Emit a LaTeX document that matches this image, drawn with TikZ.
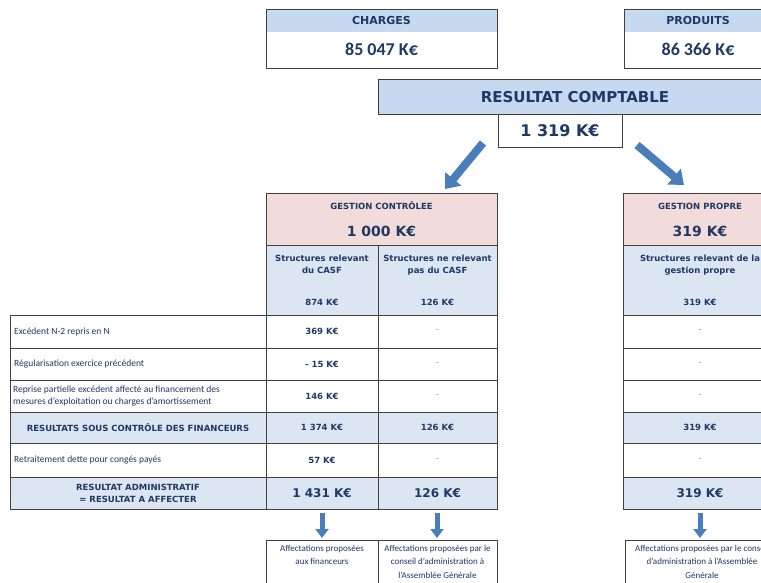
\documentclass[tikz,border=0pt]{standalone}
\usepackage{fontspec}
\setmainfont{Carlito}
\newfontfamily\hdfont{DejaVu Sans}
\usetikzlibrary{arrows.meta}
\definecolor{hdblue}{HTML}{C6D9F1}
\definecolor{rowblue}{HTML}{DCE6F2}
\definecolor{pinkc}{HTML}{F2DCDB}
\definecolor{navy}{HTML}{1F3864}
\definecolor{bordc}{HTML}{404040}
\definecolor{arrowc}{HTML}{4A7EBB}
\definecolor{dashc}{HTML}{8C8C8C}
\begin{document}
\begin{tikzpicture}[x=1pt,y=-1pt,
 cell/.style={draw=bordc,line width=1pt,inner sep=0pt,outer sep=0pt,anchor=north west},
 fillonly/.style={draw=none,inner sep=0pt,outer sep=0pt,anchor=north west},
 hd/.style={font=\hdfont\bfseries\fontsize{8.5}{12}\selectfont,text=navy,inner sep=0pt},
 hdbig/.style={font=\hdfont\bfseries\fontsize{12}{14}\selectfont,text=navy,inner sep=0pt},
 lab/.style={font=\fontsize{9.5}{12}\selectfont,text=navy,inner sep=0pt,anchor=west,align=left},
 nul/.style={font=\fontsize{9}{11}\selectfont,text=dashc,inner sep=0pt},
 bot/.style={font=\fontsize{9}{13.5}\selectfont,text=navy,inner sep=0pt,align=center},
 bigarrow/.style={draw=arrowc,line width=8pt,-{Triangle[length=13pt,width=20pt]}},
 downarrow/.style={draw=arrowc,line width=5pt,-{Triangle[length=9pt,width=13pt]}}
]
\useasboundingbox (0,0) rectangle (761,582);
\begin{scope}
\clip (0,0) rectangle (761,582);
% CHARGES
\node[fillonly,fill=hdblue,minimum width=231pt,minimum height=23pt] (chgh) at (266,9) {};
\node[cell,minimum width=231pt,minimum height=59pt] (chg) at (266,9) {};
\node[hd,font=\hdfont\bfseries\fontsize{11}{13}\selectfont] (chgt) at (381.5,20.5) {CHARGES};
\node[font=\bfseries\fontsize{18}{20}\selectfont,text=navy,inner sep=0pt] (chgv) at (381.5,49) {85 047 K€};
% PRODUITS
\node[fillonly,fill=hdblue,minimum width=148pt,minimum height=23pt] (prdh) at (624,9) {};
\node[cell,minimum width=148pt,minimum height=59pt] (prd) at (624,9) {};
\node[hd,font=\hdfont\bfseries\fontsize{11}{13}\selectfont] (prdt) at (698,20.5) {PRODUITS};
\node[font=\bfseries\fontsize{18}{20}\selectfont,text=navy,inner sep=0pt] (prdv) at (698,49) {86 366 K€};
% RESULTAT COMPTABLE
\node[cell,fill=hdblue,minimum width=394pt,minimum height=35pt] (rch) at (378,79) {};
\node[cell,fill=white,minimum width=124pt,minimum height=33pt] (rcv) at (498,114) {};
\node[hd,font=\hdfont\bfseries\fontsize{15}{17}\selectfont] (rcht) at (575,97) {RESULTAT COMPTABLE};
\node[hd,font=\hdfont\bfseries\fontsize{16}{18}\selectfont] (rcvt) at (560,131) {1 319 K€};
% big arrows
\coordinate (la0) at (483,143);
\coordinate (la1) at (445,189);
\coordinate (ra0) at (637,145);
\coordinate (ra1) at (684,185);
\draw[bigarrow] (la0) -- (la1);
\draw[bigarrow] (ra0) -- (ra1);
% headers
\node[cell,fill=pinkc,minimum width=231pt,minimum height=52pt] (gc) at (266,193) {};
\node[hd] (gct) at (381.5,206) {GESTION CONTRÔLEE};
\node[hd,font=\hdfont\bfseries\fontsize{14}{16}\selectfont] (gcv) at (381.5,231) {1 000 K€};
\node[cell,fill=pinkc,minimum width=154pt,minimum height=52pt] (gp) at (623,193) {};
\node[hd] (gpt) at (700,206) {GESTION PROPRE};
\node[hd,font=\hdfont\bfseries\fontsize{14}{16}\selectfont] (gpv) at (700,231) {319 K€};
% structures row
\node[cell,fill=rowblue,minimum width=112pt,minimum height=70pt,hd,align=center] (sa) at (266,245) {Structures relevant\\du CASF\\[20pt]874 K€};
\node[cell,fill=rowblue,minimum width=119pt,minimum height=70pt,hd,align=center] (sb) at (378,245) {Structures ne relevant\\pas du CASF\\[20pt]126 K€};
\node[cell,fill=rowblue,minimum width=154pt,minimum height=70pt,hd,align=center] (sc) at (623,245) {Structures relevant de la\\gestion propre\\[20pt]319 K€};
% row 1
\node[cell,fill=white,minimum width=256pt,minimum height=33pt] (l1) at (10,315) {};
\node[lab] (l1t) at (14,331.5) {Excédent N-2 repris en N};
\node[cell,fill=white,minimum width=112pt,minimum height=33pt,hd] (a1) at (266,315) {369 K€};
\node[cell,fill=white,minimum width=119pt,minimum height=33pt,nul] (b1) at (378,315) {-};
\node[cell,fill=white,minimum width=154pt,minimum height=33pt,nul] (c1) at (623,315) {-};
% row 2
\node[cell,fill=white,minimum width=256pt,minimum height=32pt] (l2) at (10,348) {};
\node[lab] (l2t) at (14,364) {Régularisation exercice précédent};
\node[cell,fill=white,minimum width=112pt,minimum height=32pt,hd] (a2) at (266,348) {- 15 K€};
\node[cell,fill=white,minimum width=119pt,minimum height=32pt,nul] (b2) at (378,348) {-};
\node[cell,fill=white,minimum width=154pt,minimum height=32pt,nul] (c2) at (623,348) {-};
% row 3
\node[cell,fill=white,minimum width=256pt,minimum height=32pt] (l3) at (10,380) {};
\node[lab] (l3t) at (13,396) {Reprise partielle excédent affecté au financement des\\mesures d'exploitation ou charges d'amortissement};
\node[cell,fill=white,minimum width=112pt,minimum height=32pt,hd] (a3) at (266,380) {146 K€};
\node[cell,fill=white,minimum width=119pt,minimum height=32pt,nul] (b3) at (378,380) {-};
\node[cell,fill=white,minimum width=154pt,minimum height=32pt,nul] (c3) at (623,380) {-};
% row 4
\node[cell,fill=rowblue,minimum width=256pt,minimum height=31pt,hd] (l4) at (10,412) {RESULTATS SOUS CONTRÔLE DES FINANCEURS};
\node[cell,fill=rowblue,minimum width=112pt,minimum height=31pt,hd] (a4) at (266,412) {1 374 K€};
\node[cell,fill=rowblue,minimum width=119pt,minimum height=31pt,hd] (b4) at (378,412) {126 K€};
\node[cell,fill=rowblue,minimum width=154pt,minimum height=31pt,hd] (c4) at (623,412) {319 K€};
% row 5
\node[cell,fill=white,minimum width=256pt,minimum height=34pt] (l5) at (10,443) {};
\node[lab] (l5t) at (14,460) {Retraitement dette pour congés payés};
\node[cell,fill=white,minimum width=112pt,minimum height=34pt,hd] (a5) at (266,443) {57 K€};
\node[cell,fill=white,minimum width=119pt,minimum height=34pt,nul] (b5) at (378,443) {-};
\node[cell,fill=white,minimum width=154pt,minimum height=34pt,nul] (c5) at (623,443) {-};
% row 6
\node[cell,fill=rowblue,minimum width=256pt,minimum height=32pt,hd,align=center] (l6) at (10,477) {RESULTAT ADMINISTRATIF\\= RESULTAT A AFFECTER};
\node[cell,fill=rowblue,minimum width=112pt,minimum height=32pt,hdbig] (a6) at (266,477) {1 431 K€};
\node[cell,fill=rowblue,minimum width=119pt,minimum height=32pt,hdbig] (b6) at (378,477) {126 K€};
\node[cell,fill=rowblue,minimum width=154pt,minimum height=32pt,hdbig] (c6) at (623,477) {319 K€};
% down arrows
\coordinate (da0) at (322,513);
\coordinate (da1) at (322,538);
\coordinate (db0) at (437,513);
\coordinate (db1) at (437,538);
\coordinate (dc0) at (700,513);
\coordinate (dc1) at (700,538);
\draw[downarrow] (da0) -- (da1);
\draw[downarrow] (db0) -- (db1);
\draw[downarrow] (dc0) -- (dc1);
% bottom boxes
\node[cell,fill=white,minimum width=112pt,minimum height=50pt] (fa) at (266,540) {};
\node[bot] (fat) at (322,555) {Affectations proposées\\aux financeurs};
\node[cell,fill=white,minimum width=119pt,minimum height=50pt] (fb) at (378,540) {};
\node[bot] (fbt) at (437.5,561.5) {Affectations proposées par le\\conseil d'administration à\\l'Assemblée Générale};
\node[cell,fill=white,minimum width=154pt,minimum height=50pt] (fc) at (625,540) {};
\node[bot] (fct) at (702,561.5) {Affectations proposées par le conseil\\d'administration à l'Assemblée\\Générale};
\end{scope}
\end{tikzpicture}
\end{document}
